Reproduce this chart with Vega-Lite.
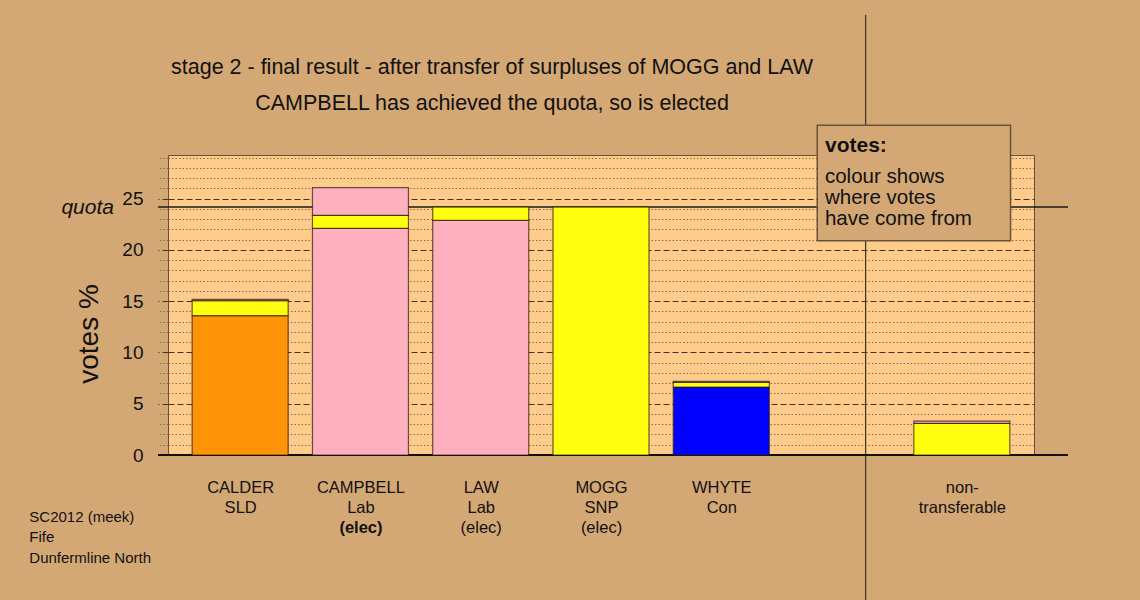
{
  "$schema": "https://vega.github.io/schema/vega-lite/v6.json",
  "width": 866,
  "height": 300,
  "autosize": {"type": "none"},
  "padding": {"left": 168, "top": 155, "right": 106, "bottom": 145},
  "background": "#D4A874",
  "config": {
    "font": "Liberation Sans",
    "view": {"fill": "#FFCC8C", "stroke": "#6a5035", "strokeWidth": 1}
  },
  "layer": [
    {
      "data": {"values": [{}]},
      "mark": {"type": "rule", "color": "#4a3828", "strokeWidth": 1.3},
      "encoding": {
        "x": {"datum": 6.2, "type": "quantitative", "axis": null},
        "y": {"datum": -14.2, "type": "quantitative", "axis": null},
        "y2": {"datum": 42.9}
      }
    },
    {
      "data": {"values": [{}]},
      "mark": {"type": "rule", "color": "#1a1a1a", "strokeWidth": 1.5},
      "encoding": {
        "x": {"datum": 0.317, "type": "quantitative", "axis": null},
        "x2": {"datum": 7.883},
        "y": {"datum": 24.17, "type": "quantitative", "axis": null}
      }
    },
    {
      "data": {"values": [{}]},
      "mark": {"type": "rule", "color": "#111111", "strokeWidth": 2},
      "encoding": {
        "x": {
          "datum": 0.317,
          "type": "quantitative",
          "axis": {
            "orient": "bottom",
            "title": null,
            "values": [2, 3, 4],
            "labelExpr": "'(elec)'",
            "ticks": false,
            "domain": false,
            "grid": false,
            "labelFontSize": 16.5,
            "labelColor": "#111111",
            "labelPadding": 64.5,
            "labelFlush": false,
            "labelOverlap": false,
            "labelFontWeight": {"condition": {"test": "datum.value == 2", "value": "bold"}, "value": "normal"}
          }
        },
        "x2": {"datum": 7.883},
        "y": {"datum": 0, "type": "quantitative", "axis": null}
      }
    },
    {
      "data": {
        "values": [
          {"pos": 1, "cand": "CALDER", "from": "SLD", "ord": 1, "votes": 13.58},
          {"pos": 1, "cand": "CALDER", "from": "SNP", "ord": 2, "votes": 1.47},
          {"pos": 1, "cand": "CALDER", "from": "Lab", "ord": 3, "votes": 0.12},
          {"pos": 2, "cand": "CAMPBELL", "from": "Lab", "ord": 1, "votes": 22.10},
          {"pos": 2, "cand": "CAMPBELL", "from": "SNP", "ord": 2, "votes": 1.27},
          {"pos": 2, "cand": "CAMPBELL", "from": "Lab", "ord": 3, "votes": 2.69},
          {"pos": 3, "cand": "LAW", "from": "Lab", "ord": 1, "votes": 22.88},
          {"pos": 3, "cand": "LAW", "from": "SNP", "ord": 2, "votes": 1.29},
          {"pos": 4, "cand": "MOGG", "from": "SNP", "ord": 1, "votes": 24.17},
          {"pos": 5, "cand": "WHYTE", "from": "Con", "ord": 1, "votes": 6.63},
          {"pos": 5, "cand": "WHYTE", "from": "SNP", "ord": 2, "votes": 0.46},
          {"pos": 5, "cand": "WHYTE", "from": "Lab", "ord": 3, "votes": 0.10},
          {"pos": 7, "cand": "non-transferable", "from": "SNP", "ord": 1, "votes": 3.09},
          {"pos": 7, "cand": "non-transferable", "from": "Lab", "ord": 2, "votes": 0.22}
        ]
      },
      "mark": {"type": "bar", "size": 96, "stroke": "#2a1808", "strokeOpacity": 0.7, "strokeWidth": 1.2},
      "encoding": {
        "x": {
          "field": "pos",
          "type": "quantitative",
          "scale": {"domain": [0.4, 7.6], "nice": false, "zero": false, "padding": 0},
          "axis": {
            "orient": "bottom",
            "title": null,
            "values": [1, 2, 3, 4, 5, 7],
            "labelExpr": "datum.value == 1 ? ['CALDER','SLD'] : datum.value == 2 ? ['CAMPBELL','Lab'] : datum.value == 3 ? ['LAW','Lab'] : datum.value == 4 ? ['MOGG','SNP'] : datum.value == 5 ? ['WHYTE','Con'] : ['non-','transferable']",
            "ticks": false,
            "domain": false,
            "grid": false,
            "labelFontSize": 16.5,
            "labelLineHeight": 20,
            "labelColor": "#111111",
            "labelPadding": 24.5,
            "labelFlush": false,
            "labelOverlap": false
          }
        },
        "y": {
          "field": "votes",
          "type": "quantitative",
          "stack": "zero",
          "scale": {"domain": [0, 29.25], "nice": false, "zero": false, "padding": 0},
          "axis": {
            "orient": "left",
            "title": "votes %",
            "titleFontSize": 28,
            "titleFontWeight": "normal",
            "titleColor": "#111111",
            "titleX": -70.7,
            "titleY": 178.5,
            "titleAngle": -90,
            "titleAlign": "center",
            "titleBaseline": "alphabetic",
            "values": [0,1,2,3,4,5,6,7,8,9,10,11,12,13,14,15,16,17,18,19,20,21,22,23,24,25,26,27,28,29],
            "labelExpr": "datum.value % 5 === 0 ? datum.label : ''",
            "labelFontSize": 19,
            "labelColor": "#111111",
            "labelPadding": 15,
            "labelOverlap": false,
            "labelFlush": false,
            "domain": false,
            "ticks": true,
            "tickSize": 10,
            "tickWidth": 1,
            "tickDash": {"condition": {"test": "datum.value % 5 === 0", "value": [6, 3]}, "value": [1.5, 2]},
            "tickColor": {"condition": {"test": "datum.value % 5 === 0", "value": "#4a3020"}, "value": "#8a6a50"},
            "grid": true,
            "gridWidth": 1,
            "gridDash": {"condition": {"test": "datum.value % 5 === 0", "value": [6, 3]}, "value": [1.5, 2]},
            "gridColor": {"condition": {"test": "datum.value % 5 === 0", "value": "#4a3020"}, "value": "#8a6a50"},
            "gridOpacity": 1
          }
        },
        "color": {
          "field": "from",
          "type": "nominal",
          "scale": {"domain": ["SLD", "Lab", "SNP", "Con"], "range": ["#FF9408", "#FFB0C0", "#FFFF10", "#0000FF"]},
          "legend": null
        },
        "order": {"field": "ord", "type": "quantitative"}
      }
    },
    {
      "data": {"values": [{}]},
      "mark": {"type": "rect", "fill": "#D4A874", "stroke": "#6a5035", "strokeWidth": 1.5},
      "encoding": {
        "x": {"datum": 5.798, "type": "quantitative", "axis": null},
        "x2": {"datum": 7.405},
        "y": {"datum": 32.15, "type": "quantitative", "axis": null},
        "y2": {"datum": 20.89}
      }
    },
    {
      "data": {"values": [{}]},
      "mark": {"type": "text", "text": "votes:", "align": "left", "baseline": "alphabetic", "fontSize": 21, "fontWeight": "bold", "color": "#111111"},
      "encoding": {
        "x": {"datum": 5.862, "type": "quantitative", "axis": null},
        "y": {"datum": 29.59, "type": "quantitative", "axis": null}
      }
    },
    {
      "data": {"values": [{}]},
      "mark": {"type": "text", "text": ["colour shows", "where votes", "have come from"], "lineHeight": 21, "align": "left", "baseline": "alphabetic", "fontSize": 20.5, "color": "#111111"},
      "encoding": {
        "x": {"datum": 5.862, "type": "quantitative", "axis": null},
        "y": {"datum": 26.49, "type": "quantitative", "axis": null}
      }
    },
    {
      "data": {"values": [{}]},
      "mark": {"type": "text", "text": ["stage 2 - final result - after transfer of surpluses of MOGG and LAW", "CAMPBELL has achieved the quota, so is elected"], "lineHeight": 36, "align": "center", "baseline": "alphabetic", "fontSize": 21.5, "color": "#111111"},
      "encoding": {
        "x": {"datum": 3.094, "type": "quantitative", "axis": null},
        "y": {"datum": 37.1, "type": "quantitative", "axis": null}
      }
    },
    {
      "data": {"values": [{}]},
      "mark": {"type": "text", "text": "quota", "align": "right", "baseline": "alphabetic", "fontSize": 21, "fontStyle": "italic", "color": "#111111"},
      "encoding": {
        "x": {"datum": -0.049, "type": "quantitative", "axis": null},
        "y": {"datum": 23.5, "type": "quantitative", "axis": null}
      }
    },
    {
      "data": {"values": [{}]},
      "mark": {"type": "text", "text": ["SC2012 (meek)", "Fife", "Dunfermline North"], "lineHeight": 20.5, "align": "left", "baseline": "alphabetic", "fontSize": 15, "color": "#111111"},
      "encoding": {
        "x": {"datum": -0.753, "type": "quantitative", "axis": null},
        "y": {"datum": -6.53, "type": "quantitative", "axis": null}
      }
    }
  ],
  "resolve": {"axis": {"x": "independent", "y": "independent"}}
}
